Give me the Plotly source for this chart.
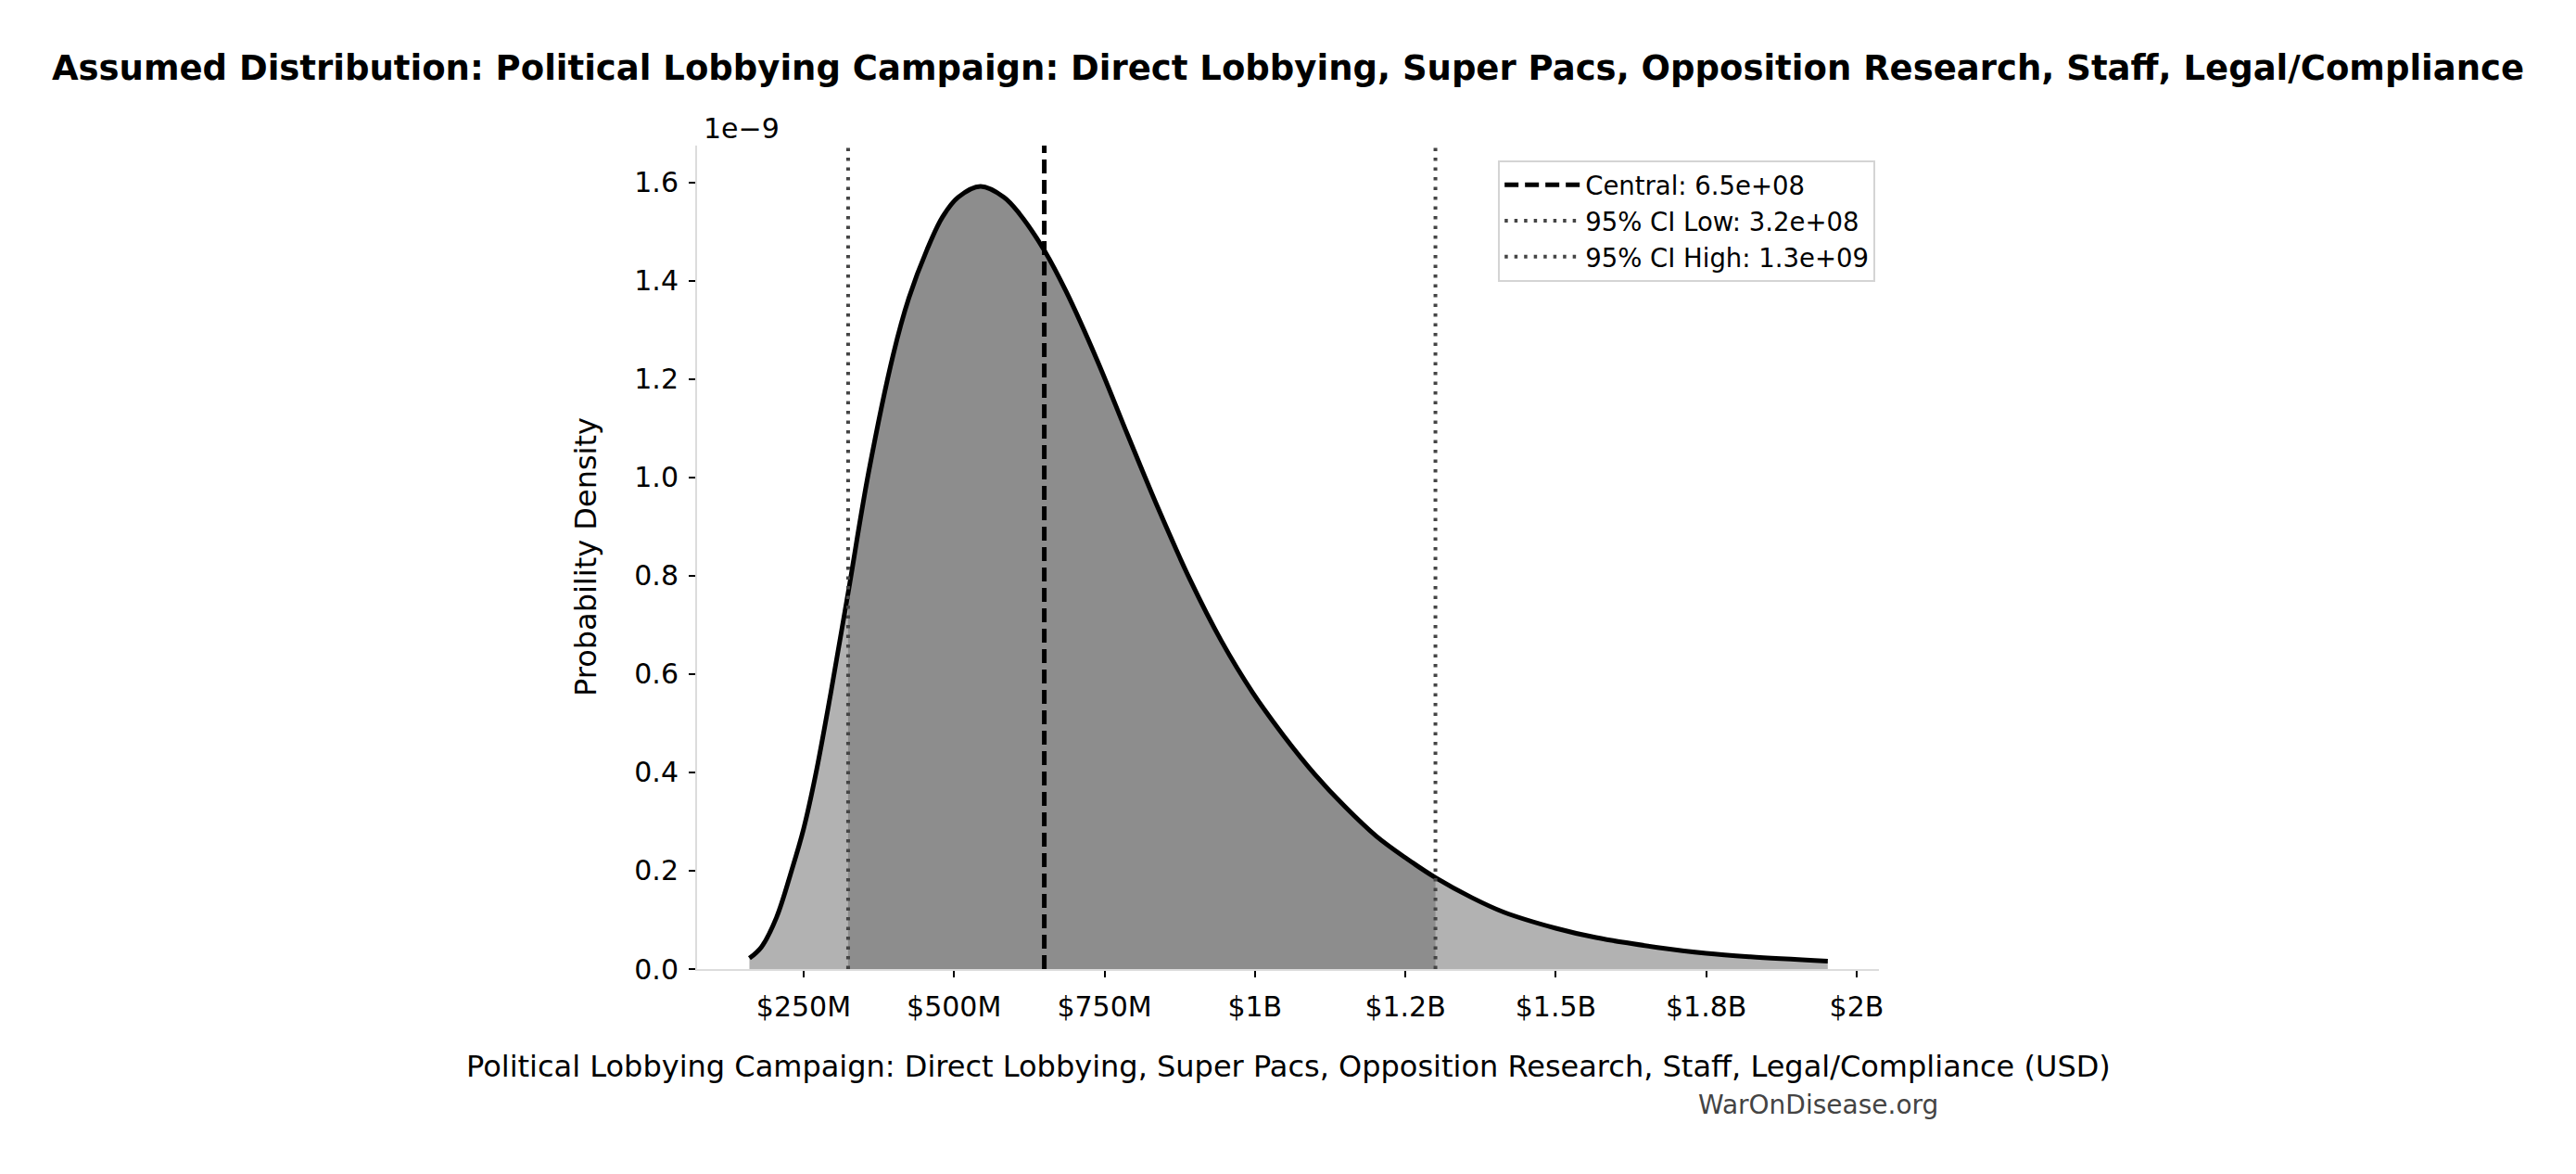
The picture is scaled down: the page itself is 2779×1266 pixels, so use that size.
import plotly.graph_objects as go

TITLE = ("Assumed Distribution: Political Lobbying Campaign: Direct Lobbying, "
         "Super Pacs, Opposition Research, Staff, Legal/Compliance")
X_LABEL = ("Political Lobbying Campaign: Direct Lobbying, Super Pacs, "
           "Opposition Research, Staff, Legal/Compliance (USD)")
Y_LABEL = "Probability Density"
WATERMARK = "WarOnDisease.org"

# density curve: x in millions of USD, y in units of 1e-9
cost_musd = [160, 180, 205, 230, 250, 270, 295, 324, 358, 399, 425, 455, 481,
             507, 544, 583, 609, 650, 686, 738, 789, 840, 893, 944, 996, 1047,
             1099, 1150, 1202, 1253, 1300, 1361, 1413, 1500, 1567, 1669, 1750,
             1823, 1952]
density_e9 = [0.022, 0.045, 0.105, 0.200, 0.285, 0.395, 0.560, 0.765, 1.010,
              1.250, 1.365, 1.463, 1.530, 1.570, 1.592, 1.570, 1.536, 1.462,
              1.379, 1.238, 1.085, 0.935, 0.790, 0.668, 0.563, 0.476, 0.397,
              0.330, 0.270, 0.224, 0.186, 0.145, 0.116, 0.083, 0.064, 0.044,
              0.032, 0.025, 0.016]

central = 6.5e8
ci_low = 3.24e8
ci_high = 1.3e9

x_tick_musd = [250, 500, 750, 1000, 1250, 1500, 1750, 2000]
x_tick_labels = ["$250M", "$500M", "$750M", "$1B", "$1.2B", "$1.5B", "$1.8B", "$2B"]
y_ticks = [0.0, 0.2, 0.4, 0.6, 0.8, 1.0, 1.2, 1.4, 1.6]

FONT = "DejaVu Sans"

x_usd = [v * 1e6 for v in cost_musd]
band = [(x, y) for x, y in zip(x_usd, density_e9) if ci_low <= x <= ci_high]

fig = go.Figure()
# whole area under the curve, then the 95% band on top
fig.add_trace(go.Scatter(
    x=x_usd, y=density_e9, mode="lines", fill="tozeroy",
    fillcolor="#b2b2b2", line=dict(width=0, shape="spline"),
    showlegend=False, hoverinfo="skip",
))
fig.add_trace(go.Scatter(
    x=[p[0] for p in band], y=[p[1] for p in band], mode="lines", fill="tozeroy",
    fillcolor="#8d8d8d", line=dict(width=0, shape="spline"),
    showlegend=False, hoverinfo="skip",
))
fig.add_trace(go.Scatter(
    x=x_usd, y=density_e9, mode="lines",
    line=dict(color="black", width=5, shape="spline"),
    showlegend=False,
))

fig.add_vline(x=central, line=dict(color="black", width=5, dash="15px,7px"),
              showlegend=True, name=f"Central: {central:.1e}")
fig.add_vline(x=ci_low, line=dict(color="#444444", width=4, dash="3.5px,7px"),
              showlegend=True, name=f"95% CI Low: {ci_low:.1e}")
fig.add_vline(x=ci_high, line=dict(color="#444444", width=4, dash="3.5px,7px"),
              showlegend=True, name=f"95% CI High: {ci_high:.1e}")

axis_common = dict(
    showgrid=False, zeroline=False, showline=True, linecolor="#dcdcdc", linewidth=2,
    ticks="outside", ticklen=7, tickwidth=2, tickcolor="black",
    tickfont=dict(family=FONT, size=30, color="black"),
)

# the page body adds an 8px offset, so the figure is 8px smaller than the window
fig.update_layout(
    width=2763, height=1250,
    margin=dict(l=744, r=744, t=149, b=213),
    paper_bgcolor="white", plot_bgcolor="white",
    font=dict(family=FONT, color="black"),
    title=dict(text=TITLE, x=0.5, xanchor="center", y=1 - 65 / 1250, yanchor="middle",
               font=dict(family=FONT, size=37, color="black", weight="bold")),
    xaxis=dict(range=[73e6, 2037e6], tickvals=[v * 1e6 for v in x_tick_musd],
               ticktext=x_tick_labels, ticklabelstandoff=6, **axis_common),
    yaxis=dict(range=[0, 1.675], tickvals=y_ticks, tickformat=".1f",
               ticklabelstandoff=5, **axis_common),
    legend=dict(x=0.997, xanchor="right", y=0.982, yanchor="top", itemwidth=82,
                bgcolor="white", bordercolor="#d4d4d4", borderwidth=2,
                font=dict(family=FONT, size=27.5, color="black")),
    annotations=[
        dict(text=X_LABEL, xref="paper", yref="paper", x=0.5, y=-0.1182,
             xanchor="center", yanchor="middle", showarrow=False,
             font=dict(family=FONT, size=32, color="black")),
        dict(text=Y_LABEL, xref="paper", yref="paper", x=-0.0941, y=0.5,
             xanchor="center", yanchor="middle", textangle=-90, showarrow=False,
             font=dict(family=FONT, size=32, color="black")),
        dict(text="1e\u22129", xref="paper", yref="paper", x=0.004, y=1.0203,
             xanchor="left", yanchor="middle", showarrow=False,
             font=dict(family=FONT, size=30, color="black")),
        dict(text=WATERMARK, xref="paper", yref="paper", x=0.949, y=-0.165,
             xanchor="center", yanchor="middle", showarrow=False,
             font=dict(family=FONT, size=28, color="#444444")),
    ],
)

fig.write_html("out.html", config={"displayModeBar": False})
